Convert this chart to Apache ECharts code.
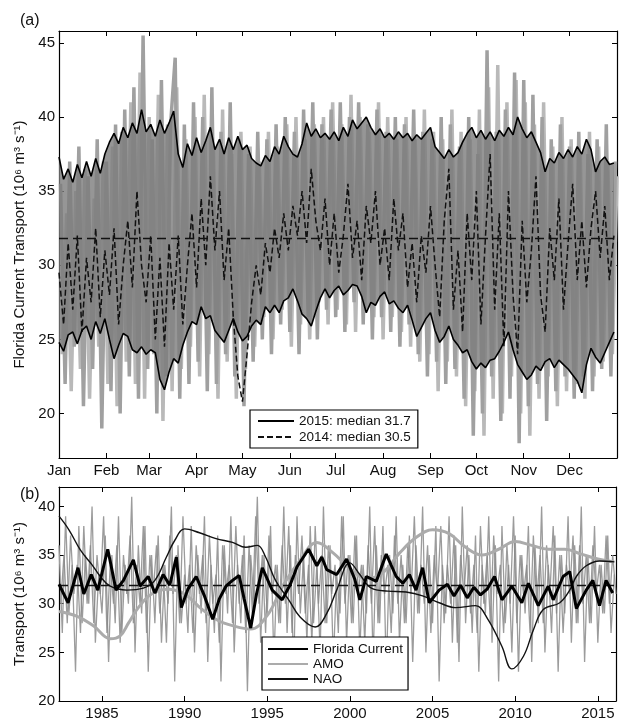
<!DOCTYPE html>
<html>
<head>
<meta charset="utf-8">
<script src="https://cdn.jsdelivr.net/npm/echarts@6/dist/echarts.min.js"></script>
<style>
  html, body { margin: 0; padding: 0; background: #fff; }
  #chart { width: 627px; height: 722px; }
</style>
</head>
<body>
<div id="chart"></div>
<script>
// ---------------- Panel (a): daily transport through the year ----------------
const monthNames = ['Jan','Feb','Mar','Apr','May','Jun','Jul','Aug','Sep','Oct','Nov','Dec'];
const monthStartDays = [0,31,59,90,120,151,181,212,243,273,304,334];
const yTicksA = [20,25,30,35,40,45];
const sampleStepDays = 3;      // spacing of the day samples
const greyOffsetDays = 1;      // first grey daily samples sit between the others
const grey2OffsetDays = 2;     // second grey daily samples
const meanA = 31.8;

// upper envelope (solid black, top)
const envUpper = [
  37.3, 35.8, 36.5, 35.6, 36.8, 35.9, 37.0, 36.0, 37.2, 36.2,
  37.5, 38.3, 38.9, 38.2, 39.3, 38.6, 39.6, 38.9, 40.5, 39.0,
  39.5, 38.7, 39.8, 38.9, 39.6, 40.4, 37.5, 36.6, 38.2, 37.4,
  38.6, 37.6, 38.4, 39.3, 37.8, 38.5, 37.5, 38.6, 37.8, 38.7,
  37.8, 38.1, 37.2, 36.9, 36.7, 37.4, 37.0, 38.0, 37.5, 38.7,
  38.0, 37.5, 37.3, 38.2, 39.6, 38.7, 39.2, 38.6, 38.9, 38.5,
  39.0, 38.4, 39.3, 38.7, 39.8, 39.2, 39.6, 40.0, 39.3, 38.8,
  39.2, 38.6, 38.9, 38.5, 39.0, 38.6, 38.9, 38.4, 38.8, 38.5,
  38.9, 39.3, 38.0, 37.6, 37.2, 37.8, 37.3, 37.6, 38.3, 38.9,
  39.3, 38.6, 39.1, 38.5, 39.0, 38.4, 39.1, 38.7, 39.3, 38.8,
  40.0, 39.2, 38.6, 39.0, 38.3, 37.6, 36.3, 37.2, 36.9, 37.6,
  37.2, 37.8, 37.3, 38.0, 37.5, 38.5, 37.8, 36.3, 37.0, 37.3,
  36.8, 36.9
];
// lower envelope (solid black, bottom)
const envLower = [
  24.8, 24.2, 25.3, 25.5, 24.7, 25.6, 25.9, 25.0, 26.2, 25.4,
  26.4, 25.0, 23.7, 24.6, 25.4, 25.2, 24.3, 24.1, 24.5, 24.0,
  24.3, 24.1, 22.3, 21.6, 22.8, 23.7, 23.4, 24.6, 25.5, 26.2,
  26.0, 27.2, 26.4, 26.6, 25.6, 25.2, 24.8, 25.6, 26.4, 25.5,
  24.9, 25.2, 25.9, 26.3, 26.0, 27.2, 26.8, 27.3, 26.8, 27.6,
  27.8, 28.4, 27.6, 26.7, 26.4, 25.9, 26.9, 27.8, 28.4, 27.8,
  28.3, 28.6, 28.0, 28.3, 28.7, 28.6, 27.9, 26.8, 27.5, 27.3,
  27.9, 28.2, 27.4, 27.6, 27.1, 26.8, 27.3, 26.3, 25.2, 25.8,
  26.4, 26.8, 25.6, 24.8, 25.2, 25.9, 25.0, 24.6, 24.1, 24.3,
  23.5, 23.0, 23.4, 23.1, 23.6, 23.7, 24.2, 24.8, 25.5, 24.3,
  23.3, 22.8, 22.3, 22.6, 23.2, 22.9, 23.5, 23.7, 23.1, 23.6,
  23.3, 23.0, 22.6, 22.2, 21.4, 23.3, 24.4, 23.8, 23.4, 24.1,
  24.8, 25.5
];
// 2014 daily transport (dashed black)
const series2014 = [
  29.5, 26.0, 31.5, 27.0, 32.0, 25.5, 30.5, 27.5, 32.5, 26.5,
  31.0, 28.0, 32.5, 26.0, 30.0, 33.0, 28.5, 35.0, 30.0, 27.5,
  32.0, 25.0, 30.5, 24.5, 31.5, 27.0, 32.0, 26.0, 30.0, 33.5,
  28.5, 34.5, 30.0, 36.0, 31.0, 35.0, 29.0, 32.5, 26.5, 22.5,
  20.8, 24.0, 27.5, 30.0, 28.0, 31.5, 29.5, 32.5, 30.5, 33.5,
  31.0, 34.0, 32.0, 35.0, 31.5, 36.5, 33.0, 31.0, 34.5, 30.0,
  33.5, 29.5, 32.0, 35.5, 30.5, 33.0, 29.0, 34.0, 31.5, 35.0,
  30.0, 32.5, 29.0, 34.5, 31.0, 33.5, 28.5, 31.5, 27.5, 32.0,
  29.5, 34.0, 30.0, 26.5, 33.0, 36.5, 27.0, 31.0, 25.5, 33.5,
  29.0, 35.0, 26.0, 32.0, 37.5, 27.0, 33.5, 24.5, 35.0, 28.0,
  24.0, 33.0, 27.5, 31.0, 36.0, 28.0, 25.5, 32.5, 29.0, 34.5,
  27.0, 31.5, 35.5, 29.0, 33.0, 28.5, 32.5, 35.0, 30.5, 34.0,
  29.0, 32.0
];
// grey daily transport of other years (spiky)
const greyDaily = [
  35.5, 22.0, 37.0, 24.5, 38.0, 20.5, 36.0, 23.0, 38.5, 19.0,
  37.0, 21.5, 39.5, 20.0, 40.5, 22.5, 42.0, 21.0, 45.5, 23.0,
  38.5, 20.0, 42.5, 22.5, 39.5, 44.0, 21.0, 39.5, 22.0, 41.0,
  23.5, 40.0, 21.5, 42.0, 22.0, 39.0, 24.0, 41.0, 22.5, 38.5,
  20.5, 37.5, 23.5, 39.0, 25.0, 38.5, 24.0, 39.5, 26.0, 40.0,
  25.5, 39.0, 24.0, 40.5, 26.5, 41.0, 25.0, 39.5, 27.0, 40.5,
  26.5, 41.0, 25.5, 40.0, 27.5, 41.0, 26.0, 39.5, 25.0, 40.5,
  26.5, 39.0, 25.5, 40.0, 24.5, 39.5, 26.0, 40.5, 24.0, 39.0,
  22.5, 38.5, 23.5, 40.0, 22.0, 39.5, 23.0, 38.0, 21.0, 40.0,
  18.5, 37.5, 20.0, 44.5, 22.5, 39.0, 19.5, 40.5, 21.0, 43.0,
  18.0, 42.5, 20.5, 41.5, 22.0, 40.0, 19.5, 38.5, 21.5, 39.5,
  22.5, 38.0, 21.0, 39.0, 22.5, 37.5, 21.5, 38.5, 23.0, 39.5,
  22.5, 37.0
];
const greyDaily2 = [
  24.0, 33.5, 21.5, 35.0, 23.0, 36.5, 21.0, 34.5, 24.5, 37.0,
  22.0, 38.0, 20.5, 39.0, 23.5, 41.0, 22.0, 43.0, 21.0, 40.0,
  24.0, 41.5, 19.5, 39.5, 21.5, 42.0, 23.0, 38.5, 24.5, 40.0,
  22.5, 41.5, 24.0, 38.0, 21.0, 40.5, 23.5, 37.5, 21.0, 39.0,
  23.0, 38.0, 24.5, 37.0, 26.5, 39.0, 25.0, 38.0, 27.0, 39.5,
  24.5, 40.0, 26.0, 38.5, 25.0, 39.5, 27.5, 40.0, 26.0, 41.0,
  27.0, 39.5, 26.0, 41.5, 25.5, 40.0, 27.0, 39.0, 26.5, 41.0,
  25.0, 40.0, 26.5, 38.5, 25.5, 40.0, 24.5, 38.5, 23.5, 40.5,
  24.0, 39.0, 21.5, 38.5, 23.5, 40.5, 22.5, 39.0, 20.5, 38.5,
  21.5, 40.5, 18.5, 42.0, 21.0, 43.5, 20.0, 41.0, 22.5, 42.5,
  20.0, 41.0, 18.5, 39.5, 21.0, 41.0, 22.5, 38.0, 20.5, 40.0,
  21.5, 38.5, 22.0, 37.5, 21.0, 39.0, 22.5, 38.0, 23.5, 37.0,
  24.0, 36.0
];

// ---------------- Panel (b): 1982-2016 record ----------------
const yearTicks = [1985,1990,1995,2000,2005,2010,2015];
const yTicksB = [20,25,30,35,40];
const dailyStartYear = 1982.4;
const daily2StartYear = 1982.5;
const dailyStepYears = 0.2;
const meanB = 31.9;
const dailyB = [
  36, 27, 39, 29, 34, 23, 38, 28, 35, 30,
  40, 26, 33, 29, 37, 24, 35, 28, 39, 27,
  34, 30, 41, 25, 36, 29, 38, 23, 35, 28,
  37, 26, 34, 30, 40, 22, 36, 28, 33, 27,
  38, 25, 35, 29, 39, 24, 34, 27, 37, 22,
  36, 29, 39, 25, 34, 28, 37, 21, 35, 30,
  41, 26, 35, 29, 38, 24, 34, 28, 40, 27,
  36, 23, 39, 29, 35, 26, 38, 28, 34, 25,
  40, 28, 36, 24, 33, 29, 39, 26, 35, 28,
  37, 25, 34, 29, 40, 24, 36, 28, 38, 23,
  35, 29, 39, 26, 34, 28, 37, 24, 36, 29,
  40, 25, 35, 28, 38, 22, 34, 29, 39, 26,
  36, 24, 40, 28, 35, 27, 37, 23, 34, 29,
  39, 26, 36, 22, 38, 28, 34, 25, 37, 23,
  35, 29, 38, 24, 36, 28, 40, 25, 34, 27,
  37, 23, 35, 29, 39, 26, 36, 28, 40, 24,
  35, 28, 38, 26, 34, 29, 37, 27, 33
];
const dailyB2 = [
  30, 35, 28, 37, 31, 34, 27, 38, 30, 36,
  28, 35, 31, 39, 27, 34, 30, 36, 26, 35,
  31, 37, 28, 34, 30, 38, 27, 35, 31, 36,
  29, 34, 26, 37, 31, 35, 28, 39, 30, 34,
  27, 36, 31, 35, 28, 37, 30, 33, 26, 36,
  31, 34, 28, 38, 30, 35, 27, 36, 29, 39,
  30, 35, 27, 37, 31, 34, 28, 36, 30, 38,
  27, 35, 31, 37, 29, 34, 26, 38, 30, 35,
  28, 36, 31, 34, 27, 39, 30, 35, 28, 37,
  31, 34, 26, 36, 30, 38, 28, 35, 31, 34,
  27, 37, 30, 35, 28, 36, 31, 39, 29, 34,
  30, 36, 27, 35, 31, 38, 28, 34, 30, 37,
  26, 35, 31, 36, 29, 34, 27, 38, 30, 35,
  28, 37, 31, 34, 27, 36, 30, 39, 28, 35,
  31, 34, 27, 37, 30, 35, 28, 36, 31, 38,
  29, 35, 27, 34, 31, 37, 28, 36, 30, 35,
  28, 36, 31, 34, 29, 37, 30, 35, 31
];
const fcYears = [
  1982.40, 1982.95, 1983.55, 1983.90, 1984.35, 1984.75, 1985.35, 1985.85, 1986.30, 1986.90,
  1987.30, 1987.80, 1988.20, 1988.70, 1989.10, 1989.50, 1989.80, 1990.20, 1990.70, 1991.20,
  1991.70, 1992.10, 1992.50, 1992.90, 1993.30, 1993.60, 1994.00, 1994.35, 1994.70, 1995.30,
  1995.90, 1996.40, 1996.80, 1997.50, 1998.00, 1998.30, 1998.60, 1999.20, 1999.80, 2000.30,
  2000.60, 2001.00, 2001.60, 2002.20, 2002.80, 2003.20, 2003.60, 2004.00, 2004.40, 2004.80,
  2005.40, 2005.90, 2006.30, 2006.70, 2007.10, 2007.50, 2007.90, 2008.30, 2008.75, 2009.20,
  2009.80, 2010.40, 2010.80, 2011.40, 2012.00, 2012.30, 2012.90, 2013.30, 2013.70, 2014.30,
  2014.70, 2015.10, 2015.50, 2015.90
];
const fcValues = [
  32.0, 30.1, 33.7, 31.0, 33.0, 31.4, 35.6, 31.4, 32.4, 34.5,
  31.8, 32.8, 31.1, 33.0, 31.9, 34.8, 29.6, 31.5, 32.8, 30.8,
  28.4, 30.5, 31.8, 32.4, 32.9, 30.5, 27.5, 31.0, 33.7, 31.4,
  30.4, 32.0, 33.8, 35.6, 33.9, 34.8, 33.5, 33.0, 34.6, 32.5,
  30.4, 32.8, 32.3, 35.1, 32.8, 32.1, 33.0, 31.4, 33.7, 30.1,
  31.4, 32.0, 30.8, 31.9, 30.6, 31.7, 30.9, 31.5, 32.8, 30.4,
  31.8, 30.1, 32.1, 29.8, 31.8, 30.4, 32.8, 33.3, 29.5, 31.4,
  32.4, 29.8, 32.4, 31.1
];
const amoYears = [
  1982.4, 1983.5, 1984.5, 1985.5, 1986.1, 1986.6, 1987.2, 1988.0, 1989.0, 1990.0,
  1991.0, 1992.0, 1993.0, 1994.0, 1995.0, 1996.0, 1997.0, 1998.0, 1999.0, 2000.0,
  2001.0, 2002.0, 2003.0, 2004.0, 2005.0, 2006.0, 2007.0, 2008.0, 2009.0, 2010.0,
  2011.0, 2012.0, 2013.0, 2014.0, 2015.0, 2016.0
];
const amoValues = [
  29.2, 28.7, 27.7, 26.4, 26.7, 28.0, 29.6, 31.0, 31.5, 31.0,
  29.5, 28.3, 27.7, 27.4, 28.8, 32.0, 34.5, 36.3, 35.2, 33.6,
  32.6, 33.2, 35.2, 36.8, 37.6, 37.2, 35.8, 35.0, 35.6, 36.4,
  36.0, 35.6, 35.6, 35.1, 34.6, 34.3
];
const naoYears = [
  1982.4, 1983.0, 1983.7, 1984.4, 1984.9, 1985.5, 1986.5, 1987.5, 1988.2, 1988.9,
  1989.4, 1990.0, 1990.9, 1991.9, 1992.9, 1993.7, 1994.4, 1994.9, 1995.5, 1996.3,
  1997.0, 1997.9, 1998.6, 1999.2, 2000.0, 2000.6, 2001.3, 2002.3, 2003.4, 2004.4,
  2005.4, 2006.4, 2007.6, 2008.35, 2009.2, 2009.8, 2010.5, 2011.1, 2011.7, 2012.7,
  2013.3, 2013.7, 2014.3, 2015.1, 2016.0
];
const naoValues = [
  39.0, 37.6, 35.5, 34.0, 32.8, 31.8, 31.4, 31.6, 32.4, 34.8,
  36.5, 37.7, 37.3, 36.7, 36.3, 35.8, 36.0, 34.8, 32.4, 30.4,
  28.6, 27.6, 29.0, 31.4, 34.2, 33.0, 31.6, 31.3, 31.2, 30.8,
  30.1, 29.6, 29.8, 28.4, 25.6, 23.3, 24.6, 27.3, 29.4, 30.1,
  31.4, 32.8, 33.9, 34.4, 34.3
];

// ---------------- build ----------------
const FONT = 'Liberation Sans, Arial, sans-serif';
const byDay = (arr, offset) => arr.map((v, i) => [offset + i * sampleStepDays, v]);
const byYear = (arr, start) => arr.map((v, i) => [start + i * dailyStepYears, v]);
const pairs = (xs, ys) => xs.map((x, i) => [x, ys[i]]);
const bandRows = envUpper.map((v, i) => [i * sampleStepDays, envLower[i], v]);
const NOSYM = { color: 'rgba(0,0,0,0)' };

const axisLineStyle = { color: '#000', width: 1.2 };
function xAxisDef(gridIndex, min, max, ticks, fmt, showLabel, position) {
  return {
    type: 'value', gridIndex, min, max, position,
    axisLine: { show: true, onZero: false, lineStyle: axisLineStyle },
    axisTick: { show: true, inside: true, length: 5, customValues: ticks, lineStyle: { color: '#000', width: 1 } },
    axisLabel: { show: showLabel, customValues: ticks, formatter: fmt, color: '#111', fontSize: 15, fontFamily: FONT, margin: 5 },
    splitLine: { show: false }
  };
}
function yAxisDef(gridIndex, min, max, ticks, showLabel, position, name, gap) {
  return {
    type: 'value', gridIndex, min, max, position,
    name: name || '', nameLocation: 'middle', nameGap: gap || 25,
    nameTextStyle: { color: '#111', fontSize: 15, fontFamily: FONT },
    axisLine: { show: true, onZero: false, lineStyle: axisLineStyle },
    axisTick: { show: true, inside: true, length: 5, customValues: ticks, lineStyle: { color: '#000', width: 1 } },
    axisLabel: { show: showLabel, customValues: ticks, color: '#111', fontSize: 15, fontFamily: FONT, margin: 4 },
    splitLine: { show: false }
  };
}
const monthFmt = v => monthNames[monthStartDays.indexOf(v)];

const option = {
  backgroundColor: '#fff',
  animation: false,
  title: [
    { text: '(a)', left: 15, top: 8, textStyle: { fontSize: 16, fontWeight: 'normal', color: '#111', fontFamily: FONT } },
    { text: '(b)', left: 15, top: 482, textStyle: { fontSize: 16, fontWeight: 'normal', color: '#111', fontFamily: FONT } }
  ],
  grid: [
    { left: 59, right: 10, top: 31, height: 427 },
    { left: 59, right: 11, top: 487, height: 214 }
  ],
  xAxis: [
    xAxisDef(0, 0, 365, monthStartDays, monthFmt, true, 'bottom'),
    xAxisDef(0, 0, 365, monthStartDays, monthFmt, false, 'top'),
    xAxisDef(1, 1982.4, 2016.1, yearTicks, v => String(v), true, 'bottom'),
    xAxisDef(1, 1982.4, 2016.1, yearTicks, v => String(v), false, 'top')
  ],
  yAxis: [
    yAxisDef(0, 17, 45.8, yTicksA, true, 'left', 'Florida Current Transport (10\u2076 m\u00b3 s\u207b\u00b9)', 24),
    yAxisDef(0, 17, 45.8, yTicksA, false, 'right'),
    yAxisDef(1, 20, 42, yTicksB, true, 'left', 'Transport (10\u2076 m\u00b3 s\u207b\u00b9)', 25),
    yAxisDef(1, 20, 42, yTicksB, false, 'right')
  ],
  legend: [
    {
      data: ['2015: median 31.7', '2014: median 30.5'],
      orient: 'vertical', left: 250, top: 410,
      padding: [4, 7, 4, 7], itemGap: 2, itemWidth: 36, itemHeight: 14,
      backgroundColor: '#fff', borderColor: '#000', borderWidth: 1.2, borderRadius: 0,
      textStyle: { fontSize: 13.5, color: '#111', fontFamily: FONT }
    },
    {
      data: ['Florida Current', 'AMO', 'NAO'],
      orient: 'vertical', left: 262, top: 637,
      padding: [5, 5, 4, 5], itemGap: 1, itemWidth: 40, itemHeight: 14,
      backgroundColor: '#fff', borderColor: '#000', borderWidth: 1.2, borderRadius: 0,
      textStyle: { fontSize: 13.5, color: '#111', fontFamily: FONT }
    }
  ],
  series: [
    // ---- panel (a)
    { name: 'grey daily 2', type: 'line', xAxisIndex: 0, yAxisIndex: 0, data: byDay(greyDaily2, grey2OffsetDays),
      symbol: 'none', silent: true, z: 1, lineStyle: { color: '#b9b9b9', width: 3.5 } },
    { name: 'grey daily', type: 'line', xAxisIndex: 0, yAxisIndex: 0, data: byDay(greyDaily, greyOffsetDays),
      symbol: 'none', silent: true, z: 1, lineStyle: { color: '#a0a0a0', width: 3.5 } },
    { name: 'band', type: 'custom', xAxisIndex: 0, yAxisIndex: 0, data: bandRows, silent: true, z: 2,
      encode: { x: 0, y: [1, 2] },
      renderItem: function (params, api) {
        if (params.dataIndex !== 0) return null;
        const top = bandRows.map(r => api.coord([r[0], r[2]]));
        const bottom = bandRows.map(r => api.coord([r[0], r[1]])).reverse();
        return { type: 'polygon', shape: { points: top.concat(bottom) },
          style: { fill: '#7c7c7c', opacity: 0.8 } };
      } },
    { name: '2014: median 30.5', type: 'line', xAxisIndex: 0, yAxisIndex: 0, data: byDay(series2014, 0),
      symbol: 'none', z: 3, itemStyle: NOSYM, lineStyle: { color: '#111', width: 1.5, type: [6, 3] } },
    { name: 'mean a', type: 'line', xAxisIndex: 0, yAxisIndex: 0, data: [], z: 4,
      markLine: { symbol: 'none', silent: true, label: { show: false },
        lineStyle: { color: '#111', width: 1.3, type: [9, 5] }, data: [{ yAxis: meanA }] } },
    { name: '2015: median 31.7', type: 'line', xAxisIndex: 0, yAxisIndex: 0, data: byDay(envUpper, 0),
      symbol: 'none', z: 5, itemStyle: NOSYM, lineStyle: { color: '#000', width: 1.6 } },
    { name: '2015: median 31.7', type: 'line', xAxisIndex: 0, yAxisIndex: 0, data: byDay(envLower, 0),
      symbol: 'none', z: 5, itemStyle: NOSYM, lineStyle: { color: '#000', width: 1.6 } },
    // ---- panel (b)
    { name: 'daily b', type: 'line', xAxisIndex: 2, yAxisIndex: 2, data: byYear(dailyB, dailyStartYear),
      symbol: 'none', silent: true, z: 1, lineStyle: { color: '#9c9c9c', width: 1.3 } },
    { name: 'daily b2', type: 'line', xAxisIndex: 2, yAxisIndex: 2, data: byYear(dailyB2, daily2StartYear),
      symbol: 'none', silent: true, z: 1, lineStyle: { color: '#8a8a8a', width: 1.3, opacity: 0.85 } },
    { name: 'AMO', type: 'line', xAxisIndex: 2, yAxisIndex: 2, data: pairs(amoYears, amoValues),
      symbol: 'none', smooth: 0.4, z: 3, itemStyle: NOSYM, lineStyle: { color: '#ababab', width: 3 } },
    { name: 'mean b', type: 'line', xAxisIndex: 2, yAxisIndex: 2, data: [], z: 4,
      markLine: { symbol: 'none', silent: true, label: { show: false },
        lineStyle: { color: '#111', width: 1.3, type: [9, 5] }, data: [{ yAxis: meanB }] } },
    { name: 'NAO', type: 'line', xAxisIndex: 2, yAxisIndex: 2, data: pairs(naoYears, naoValues),
      symbol: 'none', smooth: 0.4, z: 5, itemStyle: NOSYM, lineStyle: { color: '#111', width: 1.4 } },
    { name: 'Florida Current', type: 'line', xAxisIndex: 2, yAxisIndex: 2, data: pairs(fcYears, fcValues),
      symbol: 'none', z: 6, itemStyle: NOSYM, lineStyle: { color: '#000', width: 3 } }
  ]
};

const chart = echarts.init(document.getElementById('chart'), null, { renderer: 'canvas' });
chart.setOption(option);
</script>
</body>
</html>
